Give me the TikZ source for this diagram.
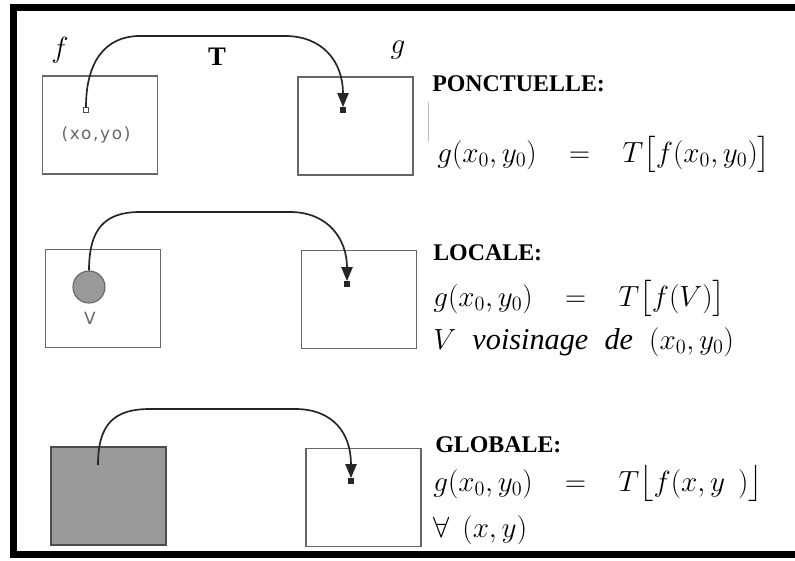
\documentclass[tikz,border=0pt]{standalone}
\usepackage{fontspec}
\setmainfont{Liberation Serif}
\newfontfamily\ptfont{DejaVu Sans}[LetterSpace=10]
\usepackage{amsmath, amssymb}
\usetikzlibrary{arrows.meta,positioning,calc}

\begin{document}
\begin{tikzpicture}[x=0.25mm,y=-0.25mm]

\tikzset{
  imgbox/.style={rectangle, draw=black!60, line width=0.9pt,
                 minimum width=28.8mm, minimum height=24.5mm, inner sep=0pt},
  pixel/.style={rectangle, draw=black!85, fill=black!85,
                minimum size=1.3mm, inner sep=0pt},
  hollowpixel/.style={pixel, draw=black!70, fill=white, line width=0.6pt},
  heading/.style={font=\fontsize{17}{20}\selectfont\bfseries,
                  anchor=base west, inner sep=0pt},
  formula/.style={font=\fontsize{21.5}{25}\selectfont,
                  anchor=base west, inner sep=0pt},
  fnlabel/.style={font=\fontsize{20}{24}\selectfont},
  ptlabel/.style={font=\ptfont\fontsize{12}{14}\selectfont, text=black!60},
  transf/.style={black!85, line width=1.2pt,
                 -{Triangle[length=10pt, width=8pt]}}
}

\useasboundingbox (0,0) rectangle (795,560);

% Frame (open on the right)
\draw[line width=1.75mm] (800,8) -| (13,554) -- (800,554);

% Ponctuelle
\node[imgbox] (fbox1) at (100,125) {};
\node[imgbox] (gbox1) at (355.5,126) {};
\node[hollowpixel] (src1) at (86,110) {};
\node[pixel] (dst1) at (343,110) {};
\node[ptlabel] (pt1) at (96,135) {(xo,yo)};
\node[fnlabel] (flab) at (60,50) {$f$};
\node[fnlabel] (glab) at (398,50) {$g$};
\node[font=\fontsize{19}{22}\selectfont\bfseries] (tlab) at (217,57) {T};
\coordinate (t1a) at (140,36);
\coordinate (t1b) at (285,36);
\draw[transf] (src1.north) .. controls +(0,-45) and +(-35,0) .. (t1a)
  -- (t1b) .. controls +(38,0) and +(0,-45) .. (dst1.north);

\draw[black!25, line width=0.5pt] (428,102) -- (428,142);
\node[heading] (ponct) at (432,92) {PONCTUELLE:};
\node[formula] (eq1) at (437,162)
  {$g(x_0,y_0)\;\;\;=\;\;\;T\big[f(x_0,y_0)\big]$};

% Locale
\node[imgbox] (fbox2) at (103,298.5) {};
\node[imgbox] (gbox2) at (359,299.5) {};
\node[circle, draw=black!60, fill=black!40, line width=0.8pt,
      minimum size=8mm, inner sep=0pt] (vois) at (89,287) {};
\node[ptlabel] (vlab) at (90,318) {V};
\node[pixel] (dst2) at (347,284) {};
\coordinate (t2a) at (140,212);
\coordinate (t2b) at (290,212);
\draw[transf] (vois.north) .. controls +(0,-42) and +(-35,0) .. (t2a)
  -- (t2b) .. controls +(38,0) and +(0,-42) .. (dst2.north);

\node[heading] (locale) at (433,260) {LOCALE:};
\node[formula] (eq2) at (433,306)
  {$g(x_0,y_0)\;\;\;=\;\;\;T\big[f(V)\big]$};
\node[formula] (eq2b) at (433,349)
  {$V\;\;\mathit{voisinage}\;\;\mathit{de}\;\;(x_0,y_0)$};

% Globale
\node[imgbox, draw=black!70, fill=black!40] (fbox3) at (108.5,496) {};
\node[imgbox] (gbox3) at (363.5,497.5) {};
\coordinate (src3) at (98,465);
\node[pixel] (dst3) at (351,481) {};
\coordinate (t3a) at (150,409);
\coordinate (t3b) at (295,409);
\draw[transf] (src3) .. controls +(0,-42) and +(-35,0) .. (t3a)
  -- (t3b) .. controls +(38,0) and +(0,-45) .. (dst3.north);

\node[heading] (globale) at (435,452) {GLOBALE:};
\node[formula] (eq3) at (433,491)
  {$g(x_0,y_0)\;\;\;=\;\;\;T\big\lfloor f(x,y\;\,)\big\rfloor$};
\node[formula] (eq3b) at (433,537) {$\forall\;\,(x,y)$};

\end{tikzpicture}
\end{document}
